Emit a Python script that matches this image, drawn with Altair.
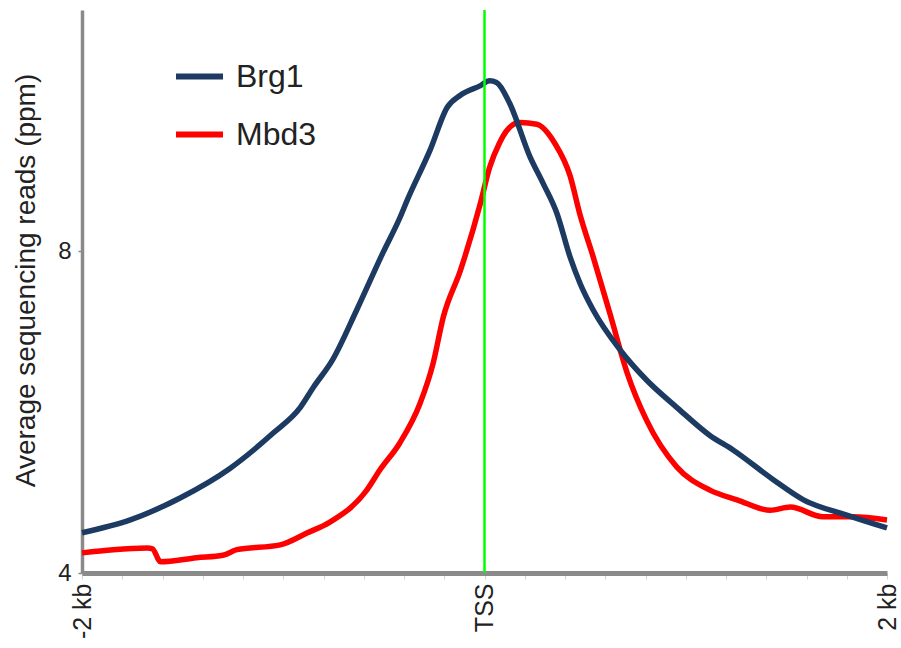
import altair as alt
import pandas as pd

# ---- data ----
series_names = ["Brg1", "Mbd3"]
series_colors = ["#1c3a62", "#ff0000"]

brg1_pos = [-2000, -1760, -1515, -1265, -1050, -915, -850, -755, -635, -505, -420, -385,
            -270, -185, -120, -20, 25, 60, 125, 225, 290, 360, 425, 475, 540, 675, 805,
            955, 1120, 1235, 1435, 1585, 1800, 2000]
brg1_val = [4.50, 4.66, 4.93, 5.30, 5.74, 6.06, 6.31, 6.65, 7.27, 7.98, 8.42, 8.63,
            9.26, 9.79, 9.94, 10.06, 10.12, 10.10, 9.84, 9.18, 8.85, 8.47, 7.93, 7.60, 7.27,
            6.77, 6.40, 6.06, 5.71, 5.53, 5.16, 4.91, 4.72, 4.56]

mbd3_pos = [-2000, -1845, -1675, -1650, -1610, -1430, -1300, -1230, -1015, -880, -770, -585,
            -520, -420, -320, -255, -205, -120, -20, 25, 75, 110, 175, 260, 350, 425, 475,
            540, 625, 710, 805, 955, 1120, 1255, 1420, 1520, 1680, 1830, 2000]
mbd3_val = [4.25, 4.29, 4.31, 4.30, 4.14, 4.19, 4.22, 4.29, 4.35, 4.50, 4.63, 5.03,
            5.28, 5.62, 6.11, 6.61, 7.18, 7.76, 8.60, 9.04, 9.35, 9.50, 9.60, 9.58, 9.34, 8.94,
            8.45, 7.93, 7.21, 6.48, 5.90, 5.32, 5.03, 4.91, 4.78, 4.82, 4.70, 4.70, 4.66]

tss_pos = [0]

x_tick_values = [-2000, 0, 2000]
x_tick_labels = ["-2 kb", "TSS", "2 kb"]
x_minor_ticks = list(range(-2000, 2001, 25))
y_tick_values = [4, 8]
y_title = "Average sequencing reads (ppm)"

FONT = "Liberation Sans"

df = pd.concat([
    pd.DataFrame({"pos": brg1_pos, "val": brg1_val, "series": "Brg1"}),
    pd.DataFrame({"pos": mbd3_pos, "val": mbd3_val, "series": "Mbd3"}),
], ignore_index=True)

label_expr = " : ".join(
    f"datum.value == {v} ? '{l}'" for v, l in zip(x_tick_values, x_tick_labels)
) + " : ''"

x_enc = alt.X(
    "pos:Q",
    scale=alt.Scale(domain=[-2000, 2000], nice=False, zero=False),
    axis=alt.Axis(
        values=x_minor_ticks, labelExpr=label_expr, labelOverlap=False,
        labelAngle=270, labelAlign="right", labelBaseline="middle",
        labelFontSize=25, labelFont=FONT, labelColor="#222222", labelPadding=4,
        labelBound=False, labelFlush=False,
        grid=False, domainColor="#8a8a8a", domainWidth=5,
        tickColor="#d2d2d2", tickSize=6, tickWidth=1, title=None,
    ),
)
y_enc = alt.Y(
    "val:Q",
    scale=alt.Scale(domain=[4, 11], nice=False, zero=False),
    axis=alt.Axis(
        values=y_tick_values, grid=False, domainColor="#8a8a8a", domainWidth=3.5,
        tickColor="#8a8a8a", tickSize=4, tickWidth=1.5,
        labelFontSize=24, labelFont=FONT, labelColor="#222222", labelPadding=7,
        title=y_title, titleFontSize=28, titleFont=FONT, titleFontWeight="normal",
        titleColor="#222222", titlePadding=17, titleY=270,
    ),
)
color_enc = alt.Color(
    "series:N",
    scale=alt.Scale(domain=series_names, range=series_colors),
    legend=alt.Legend(
        orient="none", legendX=91, legendY=40, title=None, padding=0,
        symbolType="stroke", symbolSize=2209, symbolStrokeWidth=6,
        labelFontSize=32, labelFont=FONT, labelColor="#222222",
        labelOffset=10, rowPadding=15,
    ),
)

base = alt.Chart(df).mark_line(strokeWidth=5.5, interpolate="monotone").encode(
    x=x_enc, y=y_enc, color=color_enc
)
mbd3_layer = base.transform_filter(alt.datum.series == "Mbd3")
brg1_layer = base.transform_filter(alt.datum.series == "Brg1")

tss = alt.Chart(pd.DataFrame({"pos": tss_pos})).mark_rule(
    color="#00ff00", strokeWidth=2.5
).encode(x="pos:Q")

chart = alt.layer(mbd3_layer, brg1_layer, tss).properties(
    width=805, height=563,
    autosize=alt.AutoSizeParams(type="none"),
    padding={"left": 82, "top": 10, "right": 14, "bottom": 75},
).configure(font=FONT, background="white").configure_view(stroke=None)

chart.save("out.html", embed_options={"renderer": "svg", "actions": False})
